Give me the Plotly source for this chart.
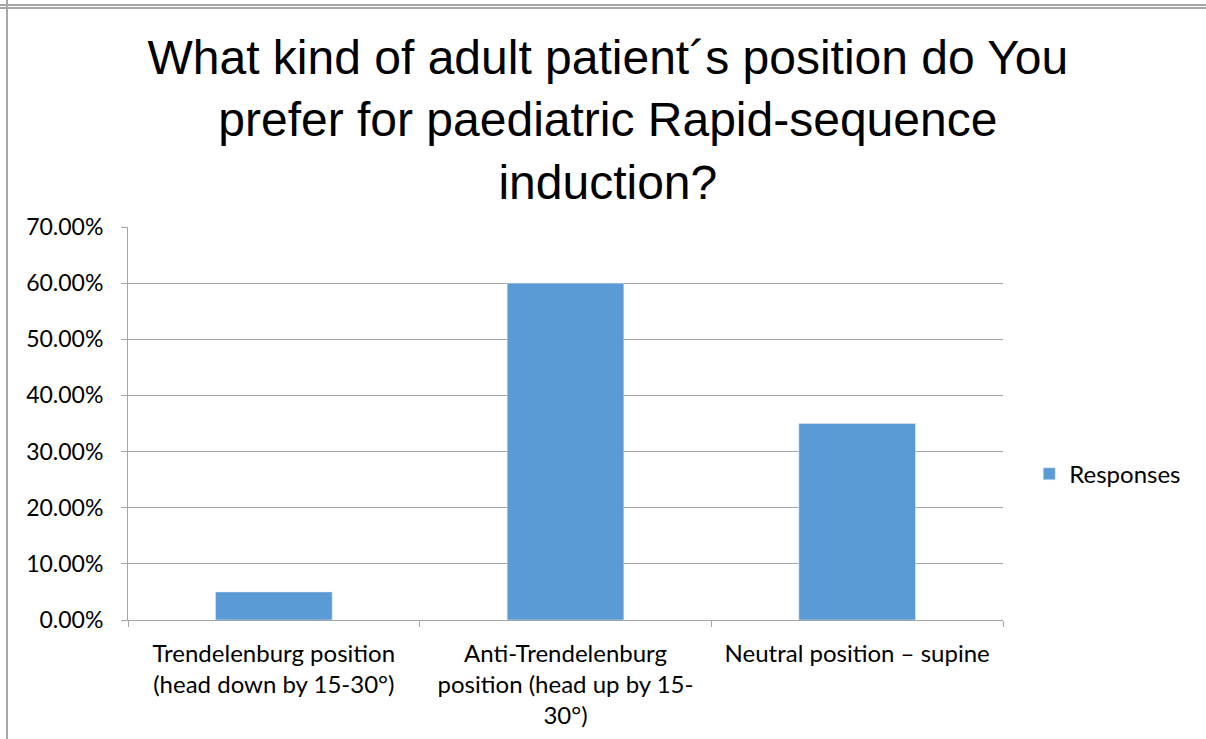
import plotly.graph_objects as go

categories = [
    "Trendelenburg position<br>(head down by 15-30°)",
    "Anti-Trendelenburg<br>position (head up by 15-<br>30°)",
    "Neutral position – supine",
]
responses = [0.05, 0.60, 0.35]
series_name = "Responses"
title_text = (
    "What kind of adult patient´s position do You<br>"
    "prefer for paediatric Rapid-sequence<br>induction?"
)

grey = "#a6a6a6"

fig = go.Figure()
fig.add_trace(
    go.Bar(
        x=categories,
        y=responses,
        name=series_name,
        marker=dict(color="#5b9bd5"),
        showlegend=True,
    )
)

fig.update_layout(
    width=1206,
    height=739,
    margin=dict(l=128, r=203, t=227, b=119),
    paper_bgcolor="white",
    plot_bgcolor="white",
    bargap=0.6,
    title=dict(
        text=title_text,
        font=dict(family="Liberation Sans, Arial", size=48, color="black"),
        x=0.504,
        xanchor="center",
        xref="container",
        y=0.9,
        yanchor="top",
        yref="container",
    ),
    legend=dict(
        x=1.03,
        y=0.371,
        xanchor="left",
        yanchor="middle",
        font=dict(family="Lato", size=24, color="black"),
    ),
    font=dict(family="Lato", size=23, color="black"),
)

fig.update_yaxes(
    range=[0, 0.7],
    dtick=0.1,
    tickformat=".2%",
    showgrid=True,
    gridcolor=grey,
    gridwidth=1,
    showline=True,
    linecolor=grey,
    linewidth=1,
    ticks="outside",
    ticklen=6,
    tickcolor=grey,
    zeroline=False,
    automargin=False,
    ticklabelstandoff=13,
    tickfont=dict(family="Lato", size=23, color="black"),
)
fig.update_xaxes(
    showline=True,
    linecolor=grey,
    linewidth=1,
    ticks="outside",
    tickson="boundaries",
    ticklen=6,
    tickcolor=grey,
    showgrid=False,
    tickangle=0,
    automargin=False,
    ticklabelstandoff=12,
    tickfont=dict(family="Lato", size=24, color="black"),
)

# outer frame of the embedded chart
frame = dict(color=grey, width=2)
fig.add_shape(type="line", xref="paper", yref="paper",
              x0=-0.15, x1=1.24, y0=1.565, y1=1.565, line=frame)
fig.add_shape(type="line", xref="paper", yref="paper",
              x0=-0.15, x1=1.24, y0=1.557, y1=1.557, line=frame)
fig.add_shape(type="line", xref="paper", yref="paper",
              x0=-0.1383, x1=-0.1383, y0=-0.31, y1=1.58, line=frame)

fig.write_html(
    "out.html",
    config={"displayModeBar": False},
    post_script="document.body.style.margin='0px';",
)
